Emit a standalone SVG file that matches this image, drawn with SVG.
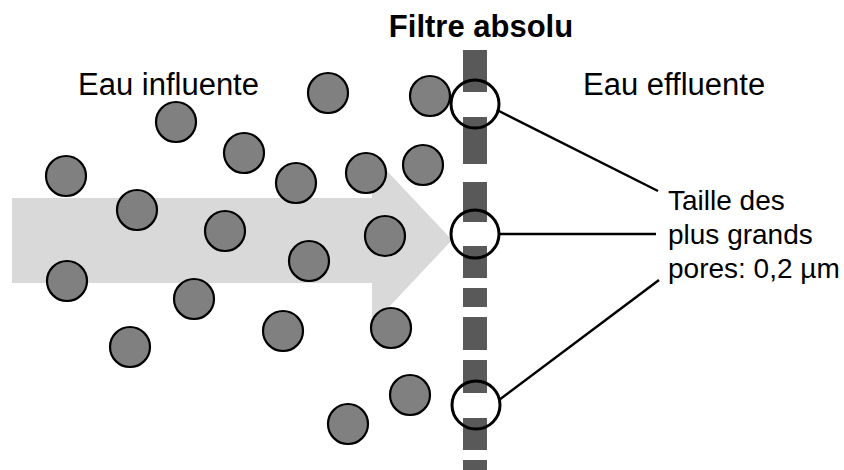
<svg xmlns="http://www.w3.org/2000/svg" width="844" height="470" viewBox="0 0 844 470">
<style>
.t{font-family:"Liberation Sans",Arial,sans-serif;fill:#000}
.p{fill:#808080;stroke:#000;stroke-width:2.2}
.d{fill:#595959}
.pore{fill:none;stroke:#000;stroke-width:3}
.ln{stroke:#000;stroke-width:2.5;fill:none}
</style>
<rect width="844" height="470" fill="#fff"/>
<g id="flow-arrow">
<polygon points="12,198 372,198 372,155 452,240 372,325 372,283 12,283" fill="#d9d9d9"/>
</g>
<g id="filter">
<rect class="d" x="463" y="50" width="24" height="42"/>
<rect class="d" x="463" y="117" width="24" height="47"/>
<rect class="d" x="463" y="182" width="24" height="40"/>
<rect class="d" x="463" y="246" width="24" height="32"/>
<rect class="d" x="463" y="288" width="24" height="19"/>
<rect class="d" x="463" y="317" width="24" height="33"/>
<rect class="d" x="463" y="360" width="24" height="33"/>
<rect class="d" x="463" y="418" width="24" height="32"/>
<rect class="d" x="463" y="460" width="24" height="10"/>
</g>
<g id="particles">
<circle class="p" cx="328" cy="93" r="20"/>
<circle class="p" cx="430" cy="96" r="20"/>
<circle class="p" cx="176" cy="122" r="20"/>
<circle class="p" cx="244" cy="153" r="20"/>
<circle class="p" cx="66" cy="176" r="20"/>
<circle class="p" cx="296" cy="183" r="20"/>
<circle class="p" cx="366" cy="173" r="20"/>
<circle class="p" cx="423" cy="165" r="20"/>
<circle class="p" cx="137" cy="210" r="20"/>
<circle class="p" cx="225" cy="231" r="20"/>
<circle class="p" cx="385" cy="236" r="20"/>
<circle class="p" cx="309" cy="261" r="20"/>
<circle class="p" cx="67" cy="281" r="20"/>
<circle class="p" cx="194" cy="299" r="20"/>
<circle class="p" cx="130" cy="347" r="20"/>
<circle class="p" cx="283" cy="331" r="20"/>
<circle class="p" cx="391" cy="328" r="20"/>
<circle class="p" cx="410" cy="395" r="20"/>
<circle class="p" cx="348" cy="424" r="20"/>
</g>
<g id="pores">
<circle class="pore" cx="475" cy="104" r="24"/>
<circle class="pore" cx="475" cy="234" r="24"/>
<circle class="pore" cx="476" cy="405" r="24"/>
</g>
<g id="connectors">
<line class="ln" x1="497" y1="110" x2="658" y2="191"/>
<line class="ln" x1="499" y1="234" x2="656" y2="234"/>
<line class="ln" x1="499" y1="400" x2="659" y2="280"/>
</g>
<g id="labels">
<text class="t" x="481" y="37" font-size="31" font-weight="bold" text-anchor="middle">Filtre absolu</text>
<text class="t" x="78" y="95" font-size="31">Eau influente</text>
<text class="t" x="583" y="95" font-size="31">Eau effluente</text>
<text class="t" x="668" y="210" font-size="28">Taille des</text>
<text class="t" x="668" y="244" font-size="28">plus grands</text>
<text class="t" x="668" y="278" font-size="28">pores: 0,2 µm</text>
</g>
</svg>
